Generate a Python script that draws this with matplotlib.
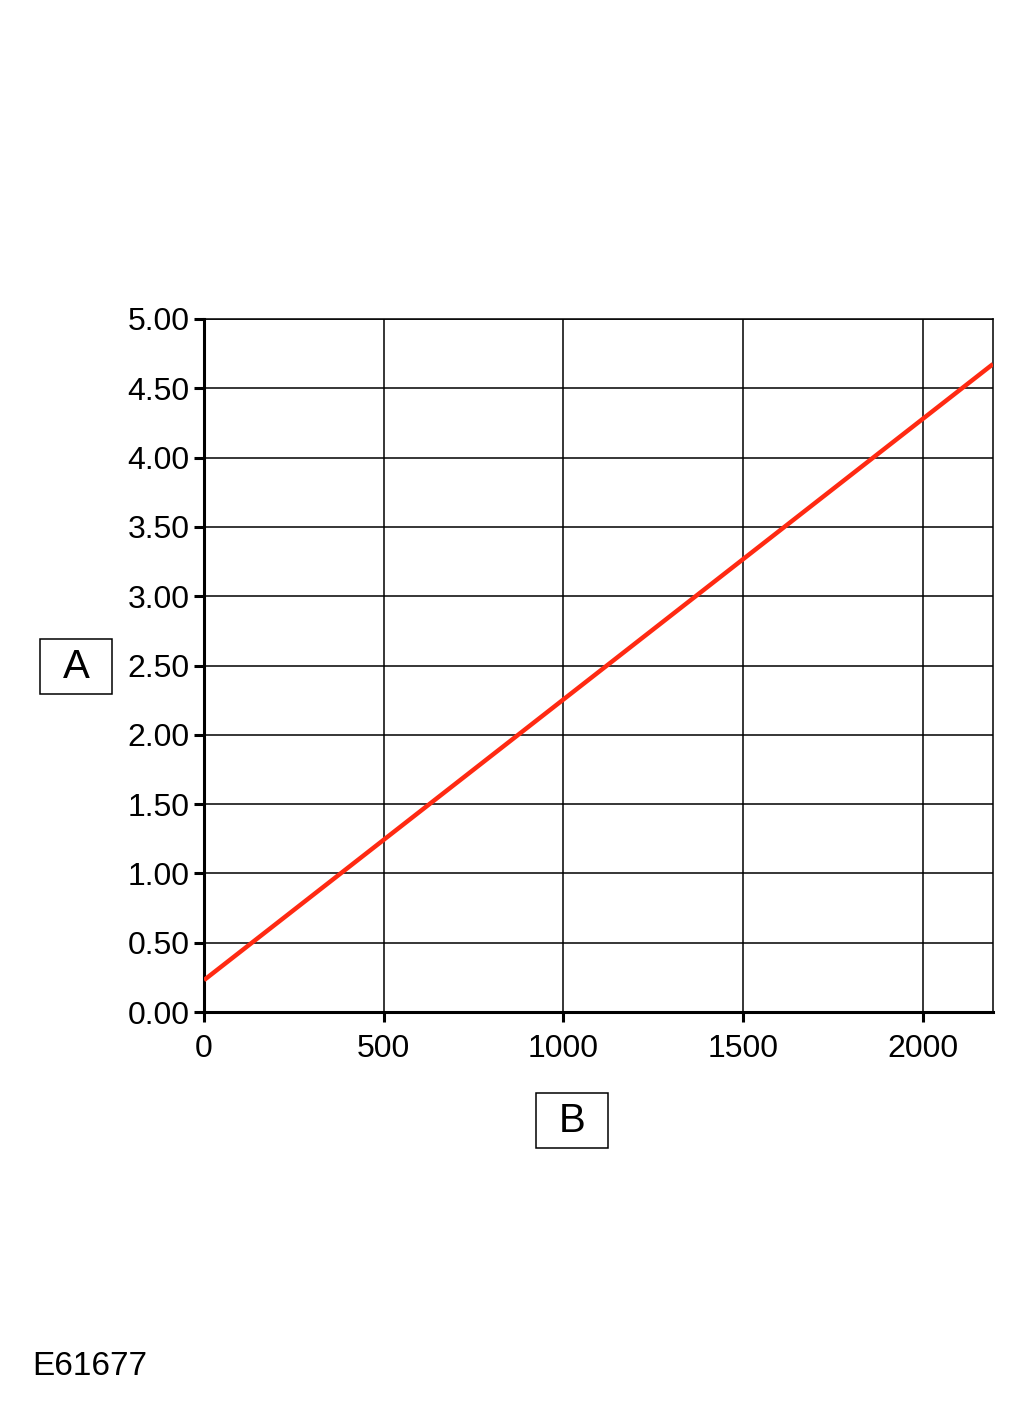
import matplotlib.pyplot as plt
from matplotlib.patches import Rectangle

plt.rcParams['font.family'] = ['Liberation Sans', 'DejaVu Sans']

# Data
speed = [0, 2195]
voltage = [0.23, 4.675]
x_ticks = [0, 500, 1000, 1500, 2000]
y_ticks = [0.0, 0.5, 1.0, 1.5, 2.0, 2.5, 3.0, 3.5, 4.0, 4.5, 5.0]

W, H = 1021, 1407
fig = plt.figure(figsize=(W / 100, H / 100), dpi=100)
ax = fig.add_axes([204 / W, 1 - 1012 / H, (993 - 204) / W, (1012 - 319) / H])

ax.plot(speed, voltage, color='#ff2a12', linewidth=3.2, solid_capstyle='butt', zorder=3)

ax.set_xlim(0, 2195)
ax.set_ylim(0, 5)
ax.set_xticks(x_ticks)
ax.set_yticks(y_ticks)
ax.set_yticklabels([f"{v:.2f}" for v in y_ticks])
ax.grid(True, color='black', linewidth=1.1)

for side in ['left', 'bottom']:
    ax.spines[side].set_linewidth(2.2)
for side in ['top', 'right']:
    ax.spines[side].set_linewidth(1.1)
ax.tick_params(axis='both', direction='out', length=7.5, width=2.2,
               labelsize=23, colors='black')
ax.tick_params(axis='y', pad=3)
ax.tick_params(axis='x', pad=8)

# Boxed axis labels
def box_label(x0, y0, x1, y1, text):
    fig.patches.append(Rectangle((x0 / W, 1 - y1 / H), (x1 - x0) / W, (y1 - y0) / H,
                                 transform=fig.transFigure, fill=False,
                                 edgecolor='black', linewidth=1.1))
    fig.text((x0 + x1) / 2 / W, 1 - (y0 + y1) / 2 / H, text, fontsize=29,
             ha='center', va='center')

box_label(40, 639, 112, 694, "A")
box_label(536, 1093, 608, 1148, "B")

fig.text(32 / W, 1 - 1375 / H, "E61677", fontsize=24, ha='left', va='baseline')

fig.savefig("out.png", dpi=100)
